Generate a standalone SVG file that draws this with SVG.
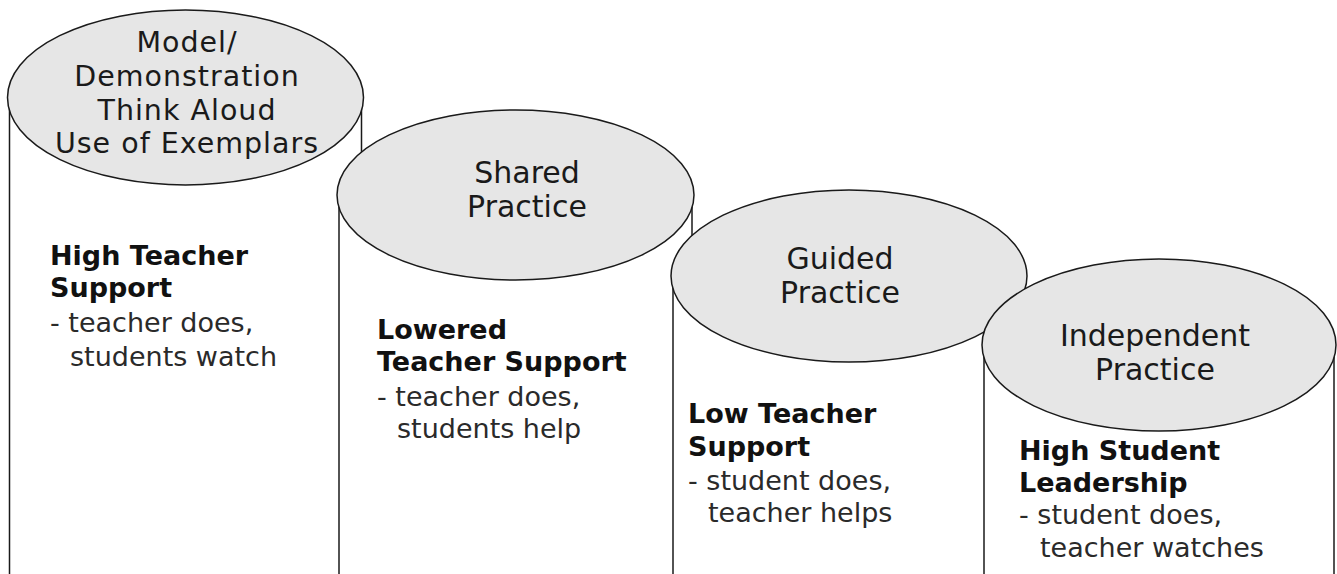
<svg xmlns="http://www.w3.org/2000/svg" width="1337" height="574" viewBox="0 0 1337 574">
<style>
.body{fill:#ffffff;stroke:none}
.side{stroke:#1a1a1a;stroke-width:1.5;fill:none}
.top{fill:#e6e6e6;stroke:#1a1a1a;stroke-width:1.5}
.cap{font-family:"DejaVu Sans","Verdana",sans-serif;font-size:30px;fill:#1a1a1a;text-anchor:middle}
.cap1{font-size:28.5px;letter-spacing:1px}
.head{font-family:"DejaVu Sans","Verdana",sans-serif;font-size:27px;font-weight:bold;fill:#111}
.desc{font-family:"DejaVu Sans","Verdana",sans-serif;font-size:27px;fill:#2a2a2a}
</style>
<rect width="1337" height="574" fill="#ffffff"/>
<g id="model">
<rect class="body" x="9.5" y="97" width="352" height="477"/>
<line class="side" x1="9.5" y1="100" x2="9.5" y2="574"/>
<line class="side" x1="361.5" y1="100" x2="361.5" y2="574"/>
<ellipse class="top" cx="185.5" cy="97.5" rx="178" ry="87.5"/>
<text class="cap cap1" x="187" y="52">Model/</text>
<text class="cap cap1" x="187" y="86">Demonstration</text>
<text class="cap cap1" x="187" y="119.5">Think Aloud</text>
<text class="cap cap1" x="187" y="153">Use of Exemplars</text>
<text class="head" x="50" y="265">High Teacher</text>
<text class="head" x="50" y="297">Support</text>
<text class="desc" x="50" y="332">- teacher does,</text>
<text class="desc" x="70" y="366">students watch</text>
</g>
<g id="shared">
<rect class="body" x="339" y="195" width="353" height="379"/>
<line class="side" x1="339" y1="198" x2="339" y2="574"/>
<line class="side" x1="692" y1="198" x2="692" y2="574"/>
<ellipse class="top" cx="515.5" cy="195" rx="178.5" ry="85"/>
<text class="cap" x="527" y="183">Shared</text>
<text class="cap" x="527" y="217">Practice</text>
<text class="head" x="377" y="339">Lowered</text>
<text class="head" x="377" y="371">Teacher Support</text>
<text class="desc" x="377" y="406">- teacher does,</text>
<text class="desc" x="397" y="438">students help</text>
</g>
<g id="guided">
<rect class="body" x="673" y="276" width="352" height="298"/>
<line class="side" x1="673" y1="279" x2="673" y2="574"/>
<line class="side" x1="1025" y1="279" x2="1025" y2="574"/>
<ellipse class="top" cx="849" cy="276" rx="178" ry="86"/>
<text class="cap" x="840" y="269">Guided</text>
<text class="cap" x="840" y="303">Practice</text>
<text class="head" x="688" y="423">Low Teacher</text>
<text class="head" x="688" y="456">Support</text>
<text class="desc" x="688" y="490">- student does,</text>
<text class="desc" x="708" y="522">teacher helps</text>
</g>
<g id="independent">
<rect class="body" x="984" y="345" width="350" height="229"/>
<line class="side" x1="984" y1="348" x2="984" y2="574"/>
<line class="side" x1="1334" y1="348" x2="1334" y2="574"/>
<ellipse class="top" cx="1159" cy="345" rx="177" ry="86"/>
<text class="cap" x="1155" y="346">Independent</text>
<text class="cap" x="1155" y="380">Practice</text>
<text class="head" x="1019" y="460">High Student</text>
<text class="head" x="1019" y="492">Leadership</text>
<text class="desc" x="1019" y="524">- student does,</text>
<text class="desc" x="1040" y="557">teacher watches</text>
</g>
</svg>
